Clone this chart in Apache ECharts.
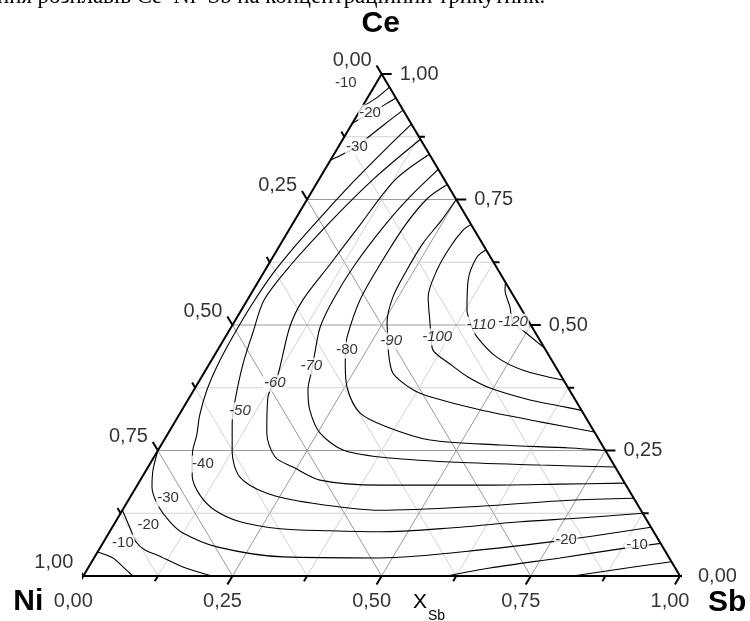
<!DOCTYPE html>
<html><head><meta charset="utf-8">
<script src="https://cdn.jsdelivr.net/npm/echarts@6/dist/echarts.min.js"></script>
<style>html,body{margin:0;padding:0;background:#fff}#c{width:750px;height:621px}</style>
</head><body><div id="c"></div>
<script>
// ---- data (ternary compositions: [x_Sb, x_Ce]) ----
const tickValues = [0, 0.25, 0.5, 0.75, 1];
const tickLabels = ['0,00', '0,25', '0,50', '0,75', '1,00'];
const minorTicks = [0.125, 0.375, 0.625, 0.875];
const gridSteps = [0.125, 0.25, 0.375, 0.5, 0.625, 0.75, 0.875];

const cU10 = [[0.026,0.974],[0.015,0.952],[0,0.935]];
const cU20 = [[0.048,0.952],[0.035,0.938],[0.0195,0.922],[0,0.902]];
const cU30 = [[0.072,0.928],[0.055,0.900],[0.04,0.873],[0.031,0.855],[0.015,0.840],[0,0.828]];
const c40 = [[0.10,0.90],[0.081,0.849],[0.061,0.789],[0.043,0.725],[0.027,0.66],[0.016,0.60],[0.012,0.54],[0.012,0.48],[0.015,0.42],[0.022,0.37],[0.035,0.32],[0.050,0.28],[0.058,0.251],[0.07,0.225],[0.083,0.199],[0.115,0.161],[0.155,0.131],[0.209,0.108],[0.283,0.094],[0.368,0.090],[0.453,0.088],[0.567,0.0956],[0.678,0.108],[0.775,0.1155],[0.875,0.125]];
const c50 = [[0.13,0.87],[0.092,0.793],[0.061,0.705],[0.038,0.62],[0.028,0.55],[0.042,0.484],[0.056,0.424],[0.079,0.351],[0.097,0.305],[0.126,0.247],[0.164,0.197],[0.225,0.165],[0.312,0.145],[0.432,0.131],[0.595,0.139],[0.740,0.151],[0.845,0.155]];
const c60 = [[0.16,0.84],[0.128,0.789],[0.114,0.699],[0.103,0.62],[0.093,0.55],[0.098,0.496],[0.127,0.396],[0.131,0.357],[0.165,0.285],[0.203,0.237],[0.243,0.217],[0.301,0.191],[0.407,0.181],[0.574,0.181],[0.707,0.183],[0.815,0.185]];
const c70 = [[0.19,0.81],[0.171,0.759],[0.156,0.699],[0.145,0.62],[0.1435,0.55],[0.149,0.496],[0.166,0.444],[0.178,0.41],[0.191,0.371],[0.214,0.331],[0.254,0.285],[0.310,0.251],[0.379,0.237],[0.501,0.227],[0.655,0.221],[0.783,0.217]];
const c80 = [[0.22,0.78],[0.201,0.753],[0.19,0.699],[0.187,0.62],[0.1887,0.55],[0.204,0.476],[0.215,0.45],[0.227,0.424],[0.254,0.376],[0.301,0.325],[0.3605,0.297],[0.4455,0.271],[0.568,0.261],[0.688,0.255],[0.75,0.25]];
const c90 = [[0.25,0.75],[0.246,0.709],[0.238,0.663],[0.2375,0.61],[0.241,0.556],[0.257,0.504],[0.27,0.48],[0.286,0.45],[0.317,0.404],[0.367,0.371],[0.4025,0.357],[0.499,0.331],[0.612,0.307],[0.713,0.287]];
const c100 = [[0.30,0.70],[0.292,0.689],[0.287,0.655],[0.288,0.61],[0.30,0.556],[0.329,0.504],[0.345,0.476],[0.361,0.45],[0.4034,0.4223],[0.4465,0.3964],[0.4943,0.3745],[0.5733,0.3506],[0.6296,0.3386],[0.67,0.33]];
const c110 = [[0.35,0.65],[0.342,0.635],[0.35,0.59],[0.378,0.53],[0.40,0.50],[0.422,0.476],[0.475,0.436],[0.532,0.41],[0.61,0.39]];
const c120 = [[0.415,0.585],[0.4217,0.57],[0.447,0.536],[0.467,0.506],[0.497,0.486],[0.546,0.454]];
const cL1 = [[0,0.048],[0.0318,0.036],[0.0575,0.018],[0.0833,0]];
const cB = [[0,0.131],[0.0305,0.0956],[0.0545,0.0677],[0.0775,0.0518],[0.1025,0.042],[0.158,0.018],[0.2157,0]];
const cP = [[0,0.25],[0.0113,0.211],[0.0266,0.177],[0.0547,0.141],[0.0913,0.108],[0.124,0.0857],[0.195,0.058],[0.316,0.038],[0.4792,0.036],[0.655,0.054],[0.773,0.072],[0.903,0.097]];
const cD = [[0.6095,0],[0.6736,0.016],[0.7809,0.036],[0.8725,0.054],[0.935,0.065]];
const cE = [[0.8207,0],[0.8925,0.014],[0.9715,0.0285]];

const labelText = ['-10','-20','-30','-40','-50','-60','-70','-80','-90','-100','-110','-120','-10','-20','-30','-20','-10'];
const labelSb   = [-0.051,0.0195,0.031,0.089,0.098,0.129,0.173,0.217,0.282,0.355,0.4165,0.467,0.0336,0.058,0.0644,0.773,0.897];
const labelCe   = [0.982,0.922,0.855,0.223,0.329,0.384,0.418,0.45,0.468,0.476,0.5,0.506,0.0657,0.1016,0.155,0.072,0.062];
const labelItalic = [0,0,0,0,1,1,1,0,1,1,1,1,0,0,0,0,0];

// ---- layout ----
const GRID = {left: 83.3, top: 74, width: 596.7, height: 502};
const FONT = '"Liberation Sans", Arial, sans-serif';
function xy(s, c) { return [s + c / 2, c]; }
function pix(s, c) { const p = xy(s, c); return [GRID.left + p[0] * GRID.width, GRID.top + (1 - p[1]) * GRID.height]; }

const series = [];
function addLine(pts, color, width, z, smooth) {
  series.push({type: 'line', data: pts.map(p => xy(p[0], p[1])), symbol: 'none', showSymbol: false,
    lineStyle: {color: color, width: width}, clip: false, silent: true, animation: false, z: z, smooth: smooth || false});
}
// grid lines
gridSteps.forEach(g => {
  const major = Math.abs(g * 4 - Math.round(g * 4)) < 1e-9;
  const col = major ? '#9a9a9a' : '#d2d2d2';
  addLine([[0, g], [1 - g, g]], col, 1, 1);
  addLine([[g, 0], [g, 1 - g]], col, 1, 1);
  addLine([[1 - g, 0], [0, 1 - g]], col, 1, 1);
});
// contours
[cU10, cU20, cU30, c40, c50, c60, c70, c80, c90, c100, c110, c120, cL1, cB, cP, cD, cE].forEach(c => addLine(c, '#000', 1.1, 3, 0.3));
// border
addLine([[0, 0], [1, 0], [0, 1], [0, 0]], '#000', 2, 4);
// ticks
const allTicks = tickValues.map(v => [v, 10]).concat(minorTicks.map(v => [v, 6]));
const kx = 0.511, ky = 0.860;
allTicks.forEach(([v, L]) => {
  let a = xy(v, 0);
  series.push({type:'line', data:[a, [a[0] - kx * L / GRID.width, a[1] - ky * L / GRID.height]], symbol:'none', lineStyle:{color:'#000', width:2}, clip:false, silent:true, animation:false, z:4});
  a = xy(1 - v, v);
  series.push({type:'line', data:[a, [a[0] + L / GRID.width, a[1]]], symbol:'none', lineStyle:{color:'#000', width:2}, clip:false, silent:true, animation:false, z:4});
  a = xy(0, 1 - v);
  series.push({type:'line', data:[a, [a[0] - kx * L / GRID.width, a[1] + ky * L / GRID.height]], symbol:'none', lineStyle:{color:'#000', width:2}, clip:false, silent:true, animation:false, z:4});
});
// tick labels
const tickLab = [];
tickValues.forEach((v, i) => {
  tickLab.push({value: xy(v, 0), label: {formatter: tickLabels[i], offset: [-10, 25], align: 'center'}});
  tickLab.push({value: xy(1 - v, v), label: {formatter: tickLabels[i], offset: [18, 0], align: 'left'}});
  tickLab.push({value: xy(0, 1 - v), label: {formatter: tickLabels[i], offset: [-10, -14], align: 'right'}});
});
series.push({type: 'scatter', data: tickLab, symbolSize: 0, itemStyle: {color: 'rgba(0,0,0,0)'}, clip: false, silent: true, animation: false, z: 6,
  label: {show: true, position: 'inside', color: '#000', fontSize: 20, fontFamily: FONT, verticalAlign: 'middle'}});
// contour labels
series.push({type: 'scatter', symbolSize: 0, itemStyle: {color: 'rgba(0,0,0,0)'}, clip: false, silent: true, animation: false, z: 8,
  data: labelText.map((t, i) => ({value: xy(labelSb[i], labelCe[i]), label: {formatter: t, fontStyle: labelItalic[i] ? 'italic' : 'normal'}})),
  label: {show: true, position: 'inside', color: '#000', fontSize: 15, fontFamily: FONT, backgroundColor: '#fff', padding: [1, 1], align: 'center', verticalAlign: 'middle'}});

const apex = pix(0, 1), ni = pix(0, 0), sb = pix(1, 0);
const chart = echarts.init(document.getElementById('c'), null, {renderer: 'canvas'});
chart.setOption({
  animation: false,
  backgroundColor: '#fff',
  grid: GRID,
  xAxis: {type: 'value', min: 0, max: 1, show: false},
  yAxis: {type: 'value', min: 0, max: 1, show: false},
  series: series,
  graphic: [
    {type: 'text', left: -3, top: -14, style: {text: 'ння розплавів Ce–Ni–Sb на концентраційний трикутник.', font: '22.8px "Liberation Serif", "Times New Roman", serif', fill: '#000'}},
    {type: 'text', x: apex[0] - 1, y: 24, style: {text: 'Ce', font: 'bold 30px ' + FONT, fill: '#000', textAlign: 'center', textVerticalAlign: 'middle'}},
    {type: 'text', x: ni[0] - 40, y: 602, style: {text: 'Ni', font: 'bold 30px ' + FONT, fill: '#000', textAlign: 'right', textVerticalAlign: 'middle'}},
    {type: 'text', x: sb[0] + 28, y: 603, style: {text: 'Sb', font: 'bold 30px ' + FONT, fill: '#000', textAlign: 'left', textVerticalAlign: 'middle'}},
    {type: 'text', x: 413, y: 602, style: {text: 'X', font: '21px ' + FONT, fill: '#000', textAlign: 'left', textVerticalAlign: 'middle'}},
    {type: 'text', x: 428, y: 616, style: {text: 'Sb', font: '14px ' + FONT, fill: '#000', textAlign: 'left', textVerticalAlign: 'middle'}}
  ]
});
</script>
</body></html>
